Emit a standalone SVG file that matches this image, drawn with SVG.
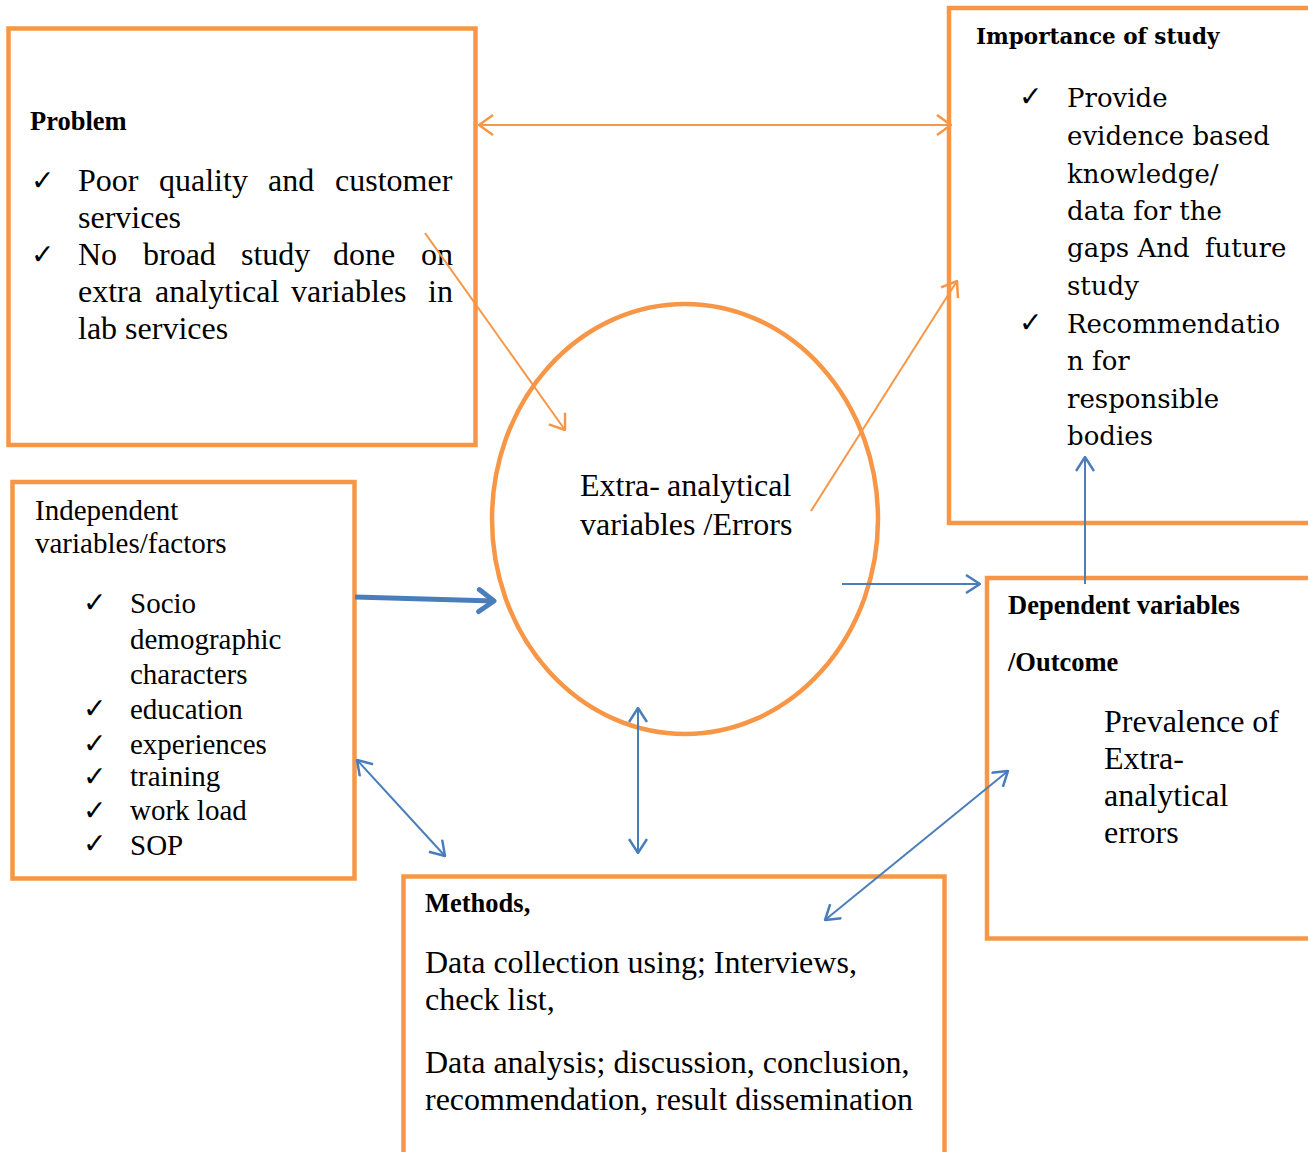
<svg xmlns="http://www.w3.org/2000/svg" width="1308" height="1152" viewBox="0 0 1308 1152">
<style>
.box{fill:#FFFFFF;stroke:#F79646;stroke-width:4.5}
.t{font-family:"Liberation Serif","Times New Roman",serif;font-size:32px;fill:#000}
.ti{font-family:"Liberation Serif","Times New Roman",serif;font-size:29px;fill:#000}
.h{font-family:"Liberation Serif","Times New Roman",serif;font-size:26.5px;font-weight:bold;fill:#000}
.c{font-family:"DejaVu Serif",Cambria,serif;font-size:26px;fill:#000}
.ch{font-family:"DejaVu Serif",Cambria,serif;font-size:21.5px;font-weight:bold;fill:#000}
.ck{font-family:"DejaVu Sans",sans-serif;font-size:28px;font-weight:bold;fill:#000}
.oa{fill:none;stroke:#F79646;stroke-width:2}
.ba{fill:none;stroke:#4A7EBB;stroke-width:2}
.bt{fill:none;stroke:#4A7EBB;stroke-width:5}
</style>
<defs>
<marker id="mo" markerUnits="userSpaceOnUse" viewBox="0 0 16 22" refX="15" refY="11" markerWidth="16" markerHeight="22" orient="auto-start-reverse">
<path d="M1,1 L15,11 L1,21" fill="none" stroke="#F79646" stroke-width="2.5"/>
</marker>
<marker id="mb" markerUnits="userSpaceOnUse" viewBox="0 0 16 20" refX="15" refY="10" markerWidth="16" markerHeight="20" orient="auto-start-reverse">
<path d="M1,1 L15,10 L1,19" fill="none" stroke="#4A7EBB" stroke-width="2.5"/>
</marker>
<marker id="mbt" markerUnits="userSpaceOnUse" viewBox="0 0 22 28" refX="18" refY="14" markerWidth="22" markerHeight="28" orient="auto">
<path d="M3,3 L18,14 L3,25" fill="none" stroke="#4A7EBB" stroke-width="5" stroke-linecap="round" stroke-linejoin="round"/>
</marker>
</defs>
<rect width="1308" height="1152" fill="#FFFFFF"/>

<g id="problem">
<rect class="box" x="8.5" y="28.5" width="467" height="416.5"/>
<text class="h" x="30" y="130">Problem</text>
<text class="ck" x="31" y="190">✓</text>
<text class="t" y="191"><tspan x="78">Poor</tspan><tspan x="159">quality</tspan><tspan x="268">and</tspan><tspan x="335">customer</tspan></text>
<text class="t" x="78" y="228">services</text>
<text class="ck" x="31" y="264">✓</text>
<text class="t" y="265"><tspan x="78">No</tspan><tspan x="143">broad</tspan><tspan x="241">study</tspan><tspan x="333">done</tspan><tspan x="421">on</tspan></text>
<text class="t" y="302"><tspan x="78">extra</tspan><tspan x="155">analytical</tspan><tspan x="291">variables</tspan><tspan x="428">in</tspan></text>
<text class="t" x="78" y="339">lab services</text>
</g>

<g id="importance">
<rect class="box" x="949" y="8" width="365" height="515"/>
<text class="ch" x="976" y="44">Importance of study</text>
<text class="ck" x="1019" y="106">✓</text>
<text class="c" x="1067" y="107">Provide</text>
<text class="c" x="1067" y="145">evidence based</text>
<text class="c" x="1067" y="183">knowledge/</text>
<text class="c" x="1067" y="220">data for the</text>
<text class="c" y="257"><tspan x="1067">gaps And</tspan><tspan x="1205">future</tspan></text>
<text class="c" x="1067" y="295">study</text>
<text class="ck" x="1019" y="332">✓</text>
<text class="c" x="1067" y="333">Recommendatio</text>
<text class="c" x="1067" y="370">n for</text>
<text class="c" x="1067" y="408">responsible</text>
<text class="c" x="1067" y="445">bodies</text>
</g>

<g id="center">
<ellipse cx="685" cy="519" rx="193" ry="215" fill="none" stroke="#F79646" stroke-width="4.5"/>
<text class="t" y="496"><tspan x="580">Extra-</tspan><tspan x="667">analytical</tspan></text>
<text class="t" x="580" y="535">variables /Errors</text>
</g>

<g id="independent">
<rect class="box" x="12.5" y="482" width="342" height="396.5"/>
<text class="ti" x="35" y="520">Independent</text>
<text class="ti" x="35" y="553">variables/factors</text>
<text class="ck" x="83" y="612">✓</text>
<text class="ti" x="130" y="613">Socio</text>
<text class="ti" x="130" y="649">demographic</text>
<text class="ti" x="130" y="684">characters</text>
<text class="ck" x="83" y="718">✓</text>
<text class="ti" x="130" y="719">education</text>
<text class="ck" x="83" y="753">✓</text>
<text class="ti" x="130" y="754">experiences</text>
<text class="ck" x="83" y="786">✓</text>
<text class="ti" x="130" y="786">training</text>
<text class="ck" x="83" y="820">✓</text>
<text class="ti" x="130" y="820">work load</text>
<text class="ck" x="83" y="853">✓</text>
<text class="ti" x="130" y="855">SOP</text>
</g>

<g id="dependent">
<rect class="box" x="987" y="578" width="327" height="360.5"/>
<text class="h" x="1008" y="614">Dependent variables</text>
<text class="h" x="1008" y="671">/Outcome</text>
<text class="t" x="1104" y="732">Prevalence of</text>
<text class="t" x="1104" y="769">Extra-</text>
<text class="t" x="1104" y="806">analytical</text>
<text class="t" x="1104" y="843">errors</text>
</g>

<g id="methods">
<rect class="box" x="403.5" y="876.5" width="541" height="285"/>
<text class="h" x="425" y="912">Methods,</text>
<text class="t" x="425" y="973">Data collection using; Interviews,</text>
<text class="t" x="425" y="1010">check list,</text>
<text class="t" x="425" y="1073">Data analysis; discussion, conclusion,</text>
<text class="t" x="425" y="1110">recommendation, result dissemination</text>
</g>

<g id="connectors">
<line class="oa" x1="479" y1="125" x2="951" y2="125" marker-start="url(#mo)" marker-end="url(#mo)"/>
<line class="oa" x1="425" y1="233" x2="565" y2="430" marker-end="url(#mo)"/>
<line class="oa" x1="811" y1="511" x2="957" y2="281" marker-end="url(#mo)"/>
<line class="bt" x1="355" y1="597" x2="494" y2="601" marker-end="url(#mbt)"/>
<line class="ba" x1="842" y1="584" x2="980" y2="584" marker-end="url(#mb)"/>
<line class="ba" x1="1085" y1="584" x2="1085" y2="457" marker-end="url(#mb)"/>
<line class="ba" x1="638" y1="708" x2="638" y2="853" marker-start="url(#mb)" marker-end="url(#mb)"/>
<line class="ba" x1="357" y1="760" x2="445" y2="856" marker-start="url(#mb)" marker-end="url(#mb)"/>
<line class="ba" x1="1008" y1="771" x2="825" y2="920" marker-start="url(#mb)" marker-end="url(#mb)"/>
</g>
</svg>
